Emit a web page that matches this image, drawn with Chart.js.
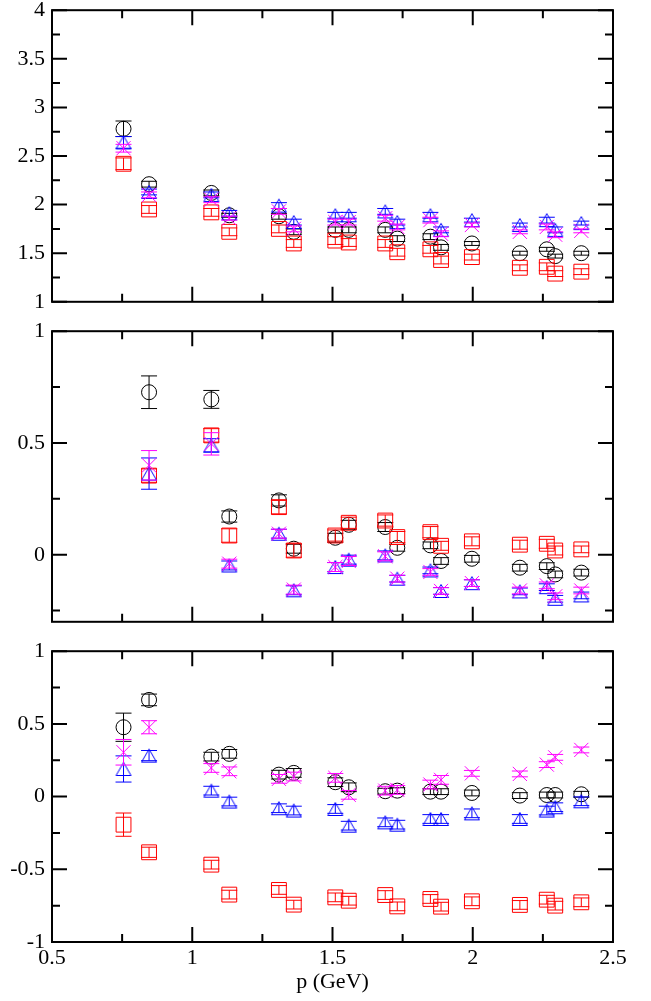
<!DOCTYPE html>
<html>
<head>
<meta charset="utf-8">
<script src="https://cdn.jsdelivr.net/npm/chart.js@4/dist/chart.umd.min.js"></script>
<style>
  body { margin: 0; background: #fff; width: 651px; height: 1001px; overflow: hidden; position: relative; }
  canvas { position: absolute; left: 0; }
</style>
</head>
<body>
<canvas id="panelTop"></canvas>
<canvas id="panelMid"></canvas>
<canvas id="panelBot"></canvas>
<script>
// momentum values shared by all three panels
const momenta = [0.755, 0.846, 1.068, 1.132, 1.309, 1.362, 1.510, 1.558, 1.688, 1.731, 1.849, 1.887, 1.997, 2.168, 2.264, 2.294, 2.387];
const xTicks = [0.5, 1, 1.5, 2, 2.5];

// top panel
const topTicks = [1, 1.5, 2, 2.5, 3, 3.5, 4];
const topBlack   = [2.78, 2.21, 2.12, 1.89, 1.88, 1.72, 1.74, 1.74, 1.74, 1.65, 1.67, 1.56, 1.60, 1.50, 1.54, 1.47, 1.50];
const topRed     = [2.42, 1.95, 1.92, 1.72, 1.75, 1.60, 1.63, 1.61, 1.60, 1.51, 1.54, 1.43, 1.46, 1.35, 1.36, 1.29, 1.31];
const topBlue    = [2.64, 2.13, 2.10, 1.91, 1.99, 1.82, 1.89, 1.89, 1.93, 1.82, 1.89, 1.74, 1.84, 1.79, 1.84, 1.74, 1.81];
const topMagenta = [2.58, 2.10, 2.05, 1.86, 1.93, 1.75, 1.82, 1.82, 1.86, 1.77, 1.84, 1.70, 1.79, 1.72, 1.77, 1.69, 1.73];
const topBlackErr   = [0.08, 0.03, 0.03, 0.02, 0.03, 0.03, 0.03, 0.03, 0.03, 0.03, 0.03, 0.03, 0.02, 0.02, 0.02, 0.02, 0.02];
const topRedErr     = [0.06, 0.04, 0.04, 0.04, 0.04, 0.04, 0.04, 0.04, 0.04, 0.04, 0.04, 0.04, 0.03, 0.03, 0.04, 0.03, 0.03];
const topBlueErr    = [0.06, 0.03, 0.03, 0.03, 0.03, 0.03, 0.03, 0.03, 0.03, 0.03, 0.03, 0.03, 0.02, 0.02, 0.03, 0.03, 0.02];
const topMagentaErr = [0.04, 0.03, 0.03, 0.02, 0.03, 0.03, 0.03, 0.03, 0.03, 0.03, 0.03, 0.03, 0.02, 0.02, 0.03, 0.03, 0.02];

// middle panel (no point at the lowest momentum)
const midTicks = [0, 0.5, 1];
const midBlack   = [null, 0.727, 0.695, 0.171, 0.243, 0.027, 0.076, 0.134, 0.124, 0.031, 0.042, -0.028, -0.018, -0.058, -0.051, -0.088, -0.080];
const midRed     = [null, 0.354, 0.534, 0.086, 0.213, 0.019, 0.086, 0.143, 0.153, 0.079, 0.101, 0.040, 0.060, 0.045, 0.049, 0.019, 0.024];
const midBlue    = [null, 0.363, 0.489, -0.048, 0.094, -0.159, -0.055, -0.022, -0.003, -0.107, -0.070, -0.162, -0.127, -0.164, -0.145, -0.197, -0.182];
const midMagenta = [null, 0.400, 0.496, -0.040, 0.094, -0.156, -0.055, -0.028, -0.007, -0.107, -0.077, -0.162, -0.127, -0.160, -0.137, -0.186, -0.160];
const midBlackErr   = [null, 0.073, 0.040, 0.025, 0.025, 0.020, 0.020, 0.020, 0.020, 0.015, 0.015, 0.015, 0.015, 0.015, 0.015, 0.015, 0.015];
const midRedErr     = [null, 0.030, 0.030, 0.030, 0.030, 0.030, 0.025, 0.025, 0.025, 0.025, 0.025, 0.020, 0.020, 0.020, 0.020, 0.020, 0.015];
const midBlueErr    = [null, 0.070, 0.030, 0.020, 0.020, 0.020, 0.020, 0.020, 0.020, 0.015, 0.015, 0.015, 0.015, 0.015, 0.015, 0.015, 0.015];
const midMagentaErr = [null, 0.066, 0.050, 0.020, 0.020, 0.020, 0.020, 0.020, 0.020, 0.015, 0.015, 0.015, 0.015, 0.015, 0.015, 0.015, 0.015];

// bottom panel
const botTicks = [-1, -0.5, 0, 0.5, 1];
const botBlack   = [0.477, 0.665, 0.275, 0.294, 0.151, 0.163, 0.099, 0.064, 0.037, 0.041, 0.034, 0.034, 0.025, 0.007, 0.011, 0.011, 0.016];
const botRed     = [-0.193, -0.383, -0.468, -0.674, -0.642, -0.743, -0.693, -0.716, -0.677, -0.755, -0.704, -0.757, -0.720, -0.745, -0.709, -0.750, -0.727];
const botBlue    = [0.190, 0.282, 0.041, -0.034, -0.080, -0.096, -0.085, -0.200, -0.177, -0.193, -0.154, -0.154, -0.115, -0.154, -0.096, -0.073, -0.032];
const botMagenta = [0.305, 0.477, 0.197, 0.174, 0.122, 0.138, 0.129, 0.012, 0.041, 0.046, 0.083, 0.115, 0.160, 0.156, 0.220, 0.270, 0.321];
const botBlackErr   = [0.097, 0.040, 0.030, 0.030, 0.030, 0.030, 0.030, 0.030, 0.020, 0.020, 0.020, 0.020, 0.020, 0.020, 0.020, 0.020, 0.020];
const botRedErr     = [0.080, 0.035, 0.030, 0.030, 0.030, 0.030, 0.030, 0.030, 0.030, 0.030, 0.030, 0.030, 0.030, 0.030, 0.030, 0.030, 0.030];
const botBlueErr    = [0.090, 0.035, 0.030, 0.030, 0.030, 0.030, 0.030, 0.030, 0.030, 0.030, 0.030, 0.030, 0.030, 0.030, 0.030, 0.030, 0.030];
const botMagentaErr = [0.088, 0.045, 0.030, 0.030, 0.030, 0.030, 0.030, 0.030, 0.030, 0.030, 0.030, 0.030, 0.020, 0.020, 0.020, 0.020, 0.020];

const FONT = { family: '"Liberation Serif", "Times New Roman", serif', size: 22 };
const PLOT_LEFT = 52, PLOT_RIGHT = 613, PAGE_H = 1001;

// triangle drawn centred on its bounding box
function triangleMarker(color) {
  const c = document.createElement('canvas');
  c.width = 18; c.height = 16;
  const g = c.getContext('2d');
  g.strokeStyle = color;
  g.lineWidth = 1;
  g.beginPath();
  g.moveTo(9, 1.5);
  g.lineTo(1.5, 14.5);
  g.lineTo(16.5, 14.5);
  g.closePath();
  g.stroke();
  return c;
}

function series(values, errors, color, style, radius) {
  return {
    data: momenta.map((x, i) => ({ x, y: values[i] })),
    errors,
    borderColor: color,
    backgroundColor: 'rgba(0,0,0,0)',
    borderWidth: 1,
    pointStyle: style,
    pointRadius: radius,
    showLine: false
  };
}

// vertical error bars with caps, drawn right after each dataset
const errorBars = {
  id: 'errorBars',
  afterDatasetDraw(chart, args) {
    const ds = chart.data.datasets[args.index];
    if (!ds.errors) return;
    const y = chart.scales.y, ctx = chart.ctx;
    ctx.save();
    ctx.strokeStyle = ds.borderColor;
    ctx.lineWidth = 1;
    args.meta.data.forEach((pt, i) => {
      const v = ds.data[i].y, e = ds.errors[i];
      if (v == null || e == null) return;
      const y1 = y.getPixelForValue(v + e), y2 = y.getPixelForValue(v - e);
      ctx.beginPath();
      ctx.moveTo(pt.x, y1); ctx.lineTo(pt.x, y2);
      ctx.moveTo(pt.x - 8, y1); ctx.lineTo(pt.x + 8, y1);
      ctx.moveTo(pt.x - 8, y2); ctx.lineTo(pt.x + 8, y2);
      ctx.stroke();
    });
    ctx.restore();
  }
};

// box frame with inward major/minor ticks on all four sides
const frame = {
  id: 'frame',
  afterDraw(chart) {
    const { ctx, chartArea: a, scales: { x, y } } = chart;
    ctx.save();
    ctx.strokeStyle = '#000';
    ctx.lineWidth = 2;
    ctx.strokeRect(a.left, a.top, a.right - a.left, a.bottom - a.top);
    ctx.beginPath();
    for (let v = x.min; v <= x.max + 1e-9; v += 0.25) {
      const px = x.getPixelForValue(v);
      const len = Math.abs(v / 0.5 - Math.round(v / 0.5)) < 1e-6 ? 15 : 8;
      ctx.moveTo(px, a.top); ctx.lineTo(px, a.top + len);
      ctx.moveTo(px, a.bottom); ctx.lineTo(px, a.bottom - len);
    }
    for (let v = Math.ceil(y.min / 0.25 - 1e-9) * 0.25; v <= y.max + 1e-9; v += 0.25) {
      const py = y.getPixelForValue(v);
      const len = Math.abs(v / 0.5 - Math.round(v / 0.5)) < 1e-6 ? 15 : 8;
      ctx.moveTo(a.left, py); ctx.lineTo(a.left + len, py);
      ctx.moveTo(a.right, py); ctx.lineTo(a.right - len, py);
    }
    ctx.stroke();
    ctx.restore();
  }
};

function makePanel(id, plotTop, plotBottom, yMin, yMax, yTicks, showX, datasets) {
  const canvas = document.getElementById(id);
  const canvasTop = plotTop - 20;
  const canvasBottom = showX ? PAGE_H : plotBottom + 20;
  canvas.style.top = canvasTop + 'px';
  canvas.width = 651;
  canvas.height = canvasBottom - canvasTop;

  return new Chart(canvas, {
    type: 'scatter',
    data: { datasets },
    options: {
      responsive: false,
      animation: false,
      events: [],
      layout: { padding: { left: 0, right: 651 - PLOT_RIGHT, top: 20, bottom: showX ? 0 : 20 } },
      plugins: { legend: { display: false }, tooltip: { enabled: false } },
      scales: {
        x: {
          type: 'linear',
          min: 0.5,
          max: 2.5,
          display: showX,
          grid: { display: false, drawTicks: false },
          border: { display: false },
          ticks: { font: FONT, color: '#000', padding: 3, maxRotation: 0, callback: v => String(v) },
          afterBuildTicks: s => { s.ticks = xTicks.map(v => ({ value: v })); },
          title: { display: showX, text: 'p (GeV)', font: FONT, color: '#000', padding: { top: 0, bottom: 6 } },
          afterFit: s => { s.height = showX ? PAGE_H - plotBottom : 0; }
        },
        y: {
          type: 'linear',
          min: yMin,
          max: yMax,
          grid: { display: false, drawTicks: false },
          border: { display: false },
          ticks: { font: FONT, color: '#000', padding: 7, callback: v => String(v) },
          afterBuildTicks: s => { s.ticks = yTicks.map(v => ({ value: v })); },
          afterFit: s => { s.width = PLOT_LEFT; }
        }
      }
    },
    plugins: [errorBars, frame]
  });
}

// datasets listed top-most first: magenta over blue over red over black
makePanel('panelTop', 10, 302, 1, 4, topTicks, false, [
  series(topMagenta, topMagentaErr, '#ff00ff', 'crossRot', 10),
  series(topBlue, topBlueErr, '#0000ff', triangleMarker('#0000ff'), 8),
  series(topRed, topRedErr, '#ff0000', 'rect', 10.5),
  series(topBlack, topBlackErr, '#000000', 'circle', 7.5)
]);

makePanel('panelMid', 331, 622, -0.3, 1, midTicks, false, [
  series(midMagenta, midMagentaErr, '#ff00ff', 'crossRot', 10),
  series(midBlue, midBlueErr, '#0000ff', triangleMarker('#0000ff'), 8),
  series(midRed, midRedErr, '#ff0000', 'rect', 10.5),
  series(midBlack, midBlackErr, '#000000', 'circle', 7.5)
]);

makePanel('panelBot', 651, 942, -1, 1, botTicks, true, [
  series(botMagenta, botMagentaErr, '#ff00ff', 'crossRot', 10),
  series(botBlue, botBlueErr, '#0000ff', triangleMarker('#0000ff'), 8),
  series(botRed, botRedErr, '#ff0000', 'rect', 10.5),
  series(botBlack, botBlackErr, '#000000', 'circle', 7.5)
]);
</script>
</body>
</html>
